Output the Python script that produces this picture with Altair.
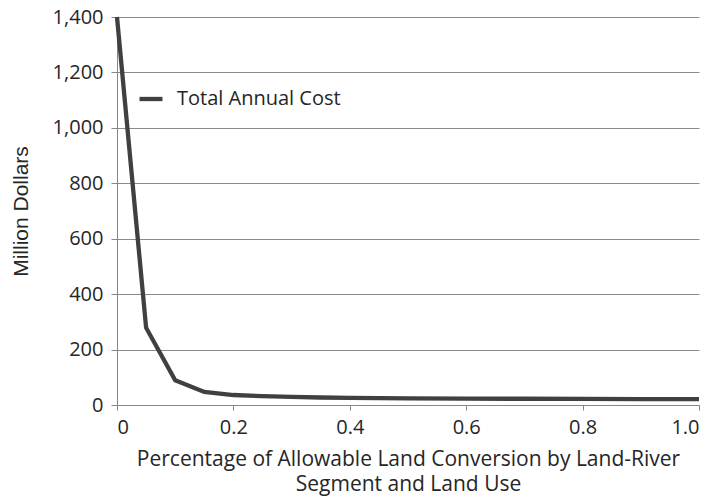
import altair as alt
import pandas as pd

x_vals = [0.0, 0.05, 0.1, 0.15, 0.2, 0.25, 0.3, 0.35, 0.4, 0.5, 0.6, 0.7, 0.8, 0.9, 1.0]
cost = [1400, 279, 89, 47, 36, 32, 29, 27, 26, 24, 23, 22.5, 22, 21, 21]
series = ["Total Annual Cost"] * len(x_vals)

x_ticks = [0, 0.2, 0.4, 0.6, 0.8, 1.0]
y_ticks = [0, 200, 400, 600, 800, 1000, 1200, 1400]

df = pd.DataFrame({"x": x_vals, "cost": cost, "series": series})

FONT = "Open Sans"

chart = alt.Chart(df).mark_line(strokeWidth=4.3, color="#404040").encode(
    x=alt.X("x:Q",
            scale=alt.Scale(domain=[0, 1], nice=False, zero=False),
            axis=alt.Axis(values=x_ticks,
                          labelExpr="datum.value == 0 ? '0' : format(datum.value, '.1f')",
                          grid=False,
                          tickSize=5, labelPadding=7,
                          title=["Percentage of Allowable Land Conversion by Land-River",
                                 "Segment and Land Use"],
                          titleFont=FONT, titleFontSize=21,
                          titleBaseline="alphabetic", titleY=60,
                          titleLineHeight=25.5, titleLimit=0)),
    y=alt.Y("cost:Q",
            scale=alt.Scale(domain=[0, 1400], nice=False),
            axis=alt.Axis(values=y_ticks,
                          labelExpr="format(datum.value, ',.0f')",
                          grid=True,
                          tickSize=6, labelPadding=8,
                          title="Million Dollars",
                          titleFont="Liberation Sans", titleFontSize=21,
                          titleBaseline="middle", titleX=-96)),
    color=alt.Color("series:N",
                    scale=alt.Scale(range=["#404040"]),
                    legend=alt.Legend(title=None, orient="none", legendX=20, legendY=68,
                                      symbolType="stroke", symbolSize=529,
                                      symbolStrokeWidth=4.3, labelFontSize=20,
                                      labelFont=FONT, labelColor="#262626",
                                      labelLimit=0,
                                      padding=0, labelOffset=12)),
).properties(
    width=582,
    height=388,
    autosize=alt.AutoSizeParams(type="none"),
    padding={"left": 117, "top": 17, "right": 18, "bottom": 91},
).configure_view(
    stroke=None
).configure_axis(
    labelFont=FONT,
    labelFontSize=20,
    labelColor="#262626", titleColor="#262626",
    titleFontWeight="normal",
    domainColor="#868686", tickColor="#868686",
    gridColor="#8c8c8c", gridWidth=1,
)

chart.save("out.html", embed_options={"renderer": "svg", "actions": False})
